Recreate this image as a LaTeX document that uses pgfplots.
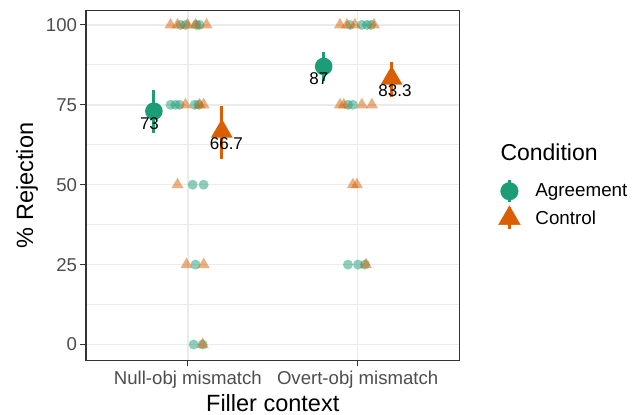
\documentclass[border=0pt]{standalone}
\usepackage{fontspec}
\setmainfont{Liberation Sans}
\usepackage{pgfplots}
\pgfplotsset{compat=1.18}
\definecolor{agree}{HTML}{1B9E77}
\definecolor{ctrl}{HTML}{D95F02}
\definecolor{gridc}{HTML}{EBEBEB}
\definecolor{tickc}{HTML}{4D4D4D}
\definecolor{framec}{HTML}{333333}
\begin{document}
\begin{tikzpicture}
\useasboundingbox (0,0) rectangle (643bp,415bp);
\begin{axis}[
  at={(86bp,54.5bp)}, anchor=south west,
  scale only axis, width=373.5bp, height=350bp,
  xmin=0.4, xmax=2.6, ymin=-5, ymax=104.5,
  clip=false,
  xtick={1,2}, xticklabels={Null-obj mismatch, Overt-obj mismatch},
  ytick={0,25,50,75,100},
  minor ytick={12.5,37.5,62.5,87.5},
  tick pos=left,
  grid=both,
  major grid style={gridc, line width=1.6bp},
  minor grid style={gridc, line width=0.8bp},
  axis line style={framec, line width=1.4bp},
  tick align=outside,
  major tick style={framec, line width=1.1bp},
  major tick length=5.5bp, minor tick length=0pt,
  ticklabel style={font=\fontsize{18.6bp}{22bp}\selectfont, text=tickc},
  xticklabel style={yshift=-1.5bp},
  /pgf/number format/assume math mode=true,
  xlabel={Filler context}, ylabel={\% Rejection},
  label style={font=\fontsize{23.5bp}{28bp}\selectfont},
  xlabel style={at={(axis description cs:0.5,-0.146)}, anchor=base, inner sep=0pt},
  ylabel style={at={(axis description cs:-0.158,0.5)}, anchor=center},
  legend style={at={(axis description cs:1.1036,0.52)}, anchor=north west,
    draw=none, fill=none, inner sep=0pt, row sep=2bp,
    font=\fontsize{18.8bp}{22bp}\selectfont,
    nodes={inner sep=0pt},
    /tikz/every odd column/.append style={column sep=15bp}},
  legend cell align=left,
]
% jittered individual responses
\addplot[agree, only marks, mark=*, mark size=5bp, mark options={fill=agree, draw opacity=0, fill opacity=0.5}, forget plot] coordinates {
 (0.957,100) (0.986,100) (1.051,100) (1.069,100)
 (0.898,75) (0.927,75) (0.951,75) (1.040,75) (1.063,75)
 (1.028,50) (1.093,50)
 (1.045,25)
 (1.034,0) (1.087,0)
 (1.955,100) (2.025,100) (2.055,100) (2.079,100)
 (1.943,75) (1.972,75)
 (1.943,25) (2.002,25) (2.043,25)
};
\addplot[ctrl, only marks, mark=triangle*, mark size=7bp, mark options={fill=ctrl, draw opacity=0, fill opacity=0.5}, forget plot] coordinates {
 (0.898,100) (0.939,100) (0.998,100) (1.045,100) (1.110,100)
 (0.986,75) (1.069,75) (1.093,75)
 (0.939,50)
 (0.992,25) (1.093,25)
 (1.087,0)
 (1.896,100) (1.937,100) (1.984,100) (2.096,100)
 (1.896,75) (1.919,75) (2.025,75) (2.084,75)
 (1.972,50) (1.996,50)
 (2.049,25)
};
% means with error bars
\addplot[only marks, mark=*, mark size=8.8bp, agree, mark options={draw opacity=0, fill=agree}, forget plot,
  error bars/.cd, y dir=both, y explicit, error mark=none, error bar style={line width=3bp, agree}]
  coordinates {(0.8,73) += (0,6.6) -= (0,6.9) (1.8,87) += (0,4.6) -= (0,4.5)};
\addplot[only marks, mark=triangle*, mark size=12.5bp, ctrl, mark options={draw opacity=0, fill=ctrl}, forget plot,
  error bars/.cd, y dir=both, y explicit, error mark=none, error bar style={line width=3bp, ctrl}]
  coordinates {(1.2,66.7) += (0,7.9) -= (0,8.8) (2.2,83.3) += (0,5.2) -= (0,5.8)};
% labels
\addplot[draw=none, mark=none, forget plot, nodes near coords, point meta=explicit symbolic,
  nodes near coords style={anchor=center, font=\fontsize{17bp}{20bp}\selectfont, text=black}]
  coordinates {(0.774,69)[73] (1.227,62.7)[66.7] (1.772,83.1)[87] (2.22,79.4)[83.3]};
% legend
\addlegendimage{legend image code/.code={\draw[agree, line width=3bp] (10.83bp,-11bp) -- (10.83bp,11bp); \fill[agree] (10.83bp,0bp) circle (8.8bp);}}
\addlegendentry{Agreement}
\addlegendimage{legend image code/.code={\draw[ctrl, line width=3bp] (10.83bp,-11bp) -- (10.83bp,11bp); \fill[ctrl] (10.83bp,12.5bp) -- (21.66bp,-6.25bp) -- (0bp,-6.25bp) -- cycle;}}
\addlegendentry{Control}
\node[anchor=base west, font=\fontsize{23bp}{27bp}\selectfont] at (axis description cs:1.1004,0.570) {Condition};
\end{axis}
\end{tikzpicture}
\end{document}
